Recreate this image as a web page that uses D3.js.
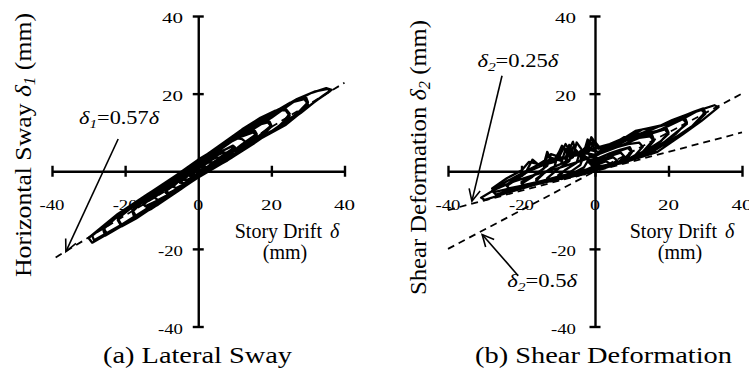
<!DOCTYPE html>
<html><head><meta charset="utf-8">
<script src="https://cdn.jsdelivr.net/npm/d3@7"></script>
<style>
body{margin:0;background:#fff}
svg{display:block}
</style>
</head><body>
<svg id="chart" width="749" height="369" font-family="'Liberation Serif', Tinos, 'Times New Roman', Times, serif"></svg>
<script>
// ---- data ----
const xTicks = [-40, -20, 0, 20, 40];
const yTicks = [-40, -20, 20, 40];

// (a) story drift δ vs horizontal sway δ1 (mm)
const loopA = [
 [0,0],[1,0.4],[2,1.2],[1.5,1.3],[0.5,0.9],[-0.5,0.1],[-1.5,-0.7],[-2,-1.2],[-1.5,-1.3],[-0.5,-0.8],[0,-0.3],
 [1,0.2],[2.5,1.1],[4,2.3],[3,2.3],[1.5,1.6],[0,0.8],[-1.5,-0.2],[-3,-1.3],[-4,-2.2],[-3,-2.2],[-1.5,-1.5],[0,-0.6],
 [1.5,0.3],[3.5,1.6],[6,3.5],[5,3.6],[3,2.6],[1,1.5],[-1,0.2],[-3,-1.2],[-5,-2.9],[-4,-3.1],[-2,-2.1],[0,-0.9],
 [2,0.5],[5,2.3],[8,4.6],[7,4.9],[4.5,3.8],[2,2.3],[0,1.2],[-2.5,-0.4],[-5,-2.3],[-7,-4.0],[-6,-4.3],[-3.5,-3.1],[-1,-1.6],[0.5,-0.8],
 [3,1.0],[6.5,3.1],[10,5.8],[9,6.3],[6,5.0],[3,3.3],[0,1.6],[-3,-0.3],[-6,-2.8],[-9,-5.1],[-8,-5.6],[-5,-4.1],[-2,-2.3],[1,-0.5],
 [3,1.4],[6,3.6],[10,6.2],[9.5,6.6],[7,5.4],[4,3.8],[0,1.4],[-4,-1.2],[-7,-3.4],[-9,-5.4],[-8.5,-5.9],[-6,-4.6],[-2,-2.0],[1,-0.2],
 [4,1.6],[8,4.2],[11,6.0],[13,7.5],[12,8.3],[10,8.6],[8,7.0],[4,4.4],[0,2.0],[-4,-0.8],[-8,-3.8],[-12,-6.8],[-11,-7.4],[-7,-5.4],[-3,-3.0],[1,-0.6],
 [5,2.0],[10,5.3],[13,7.1],[16,9.2],[15,10.0],[12,9.0],[9,7.6],[5,5.0],[0,2.2],[-5,-1.0],[-10,-4.7],[-15,-8.6],[-14,-9.3],[-9,-6.7],[-4,-3.6],[1,-0.4],
 [5,2.4],[9,4.8],[12,7.0],[16,9.6],[15.5,10.4],[13,9.6],[10,8.2],[6,5.6],[1,2.6],[-4,-0.4],[-9,-4.0],[-15,-8.2],[-14.5,-9.0],[-10,-7.0],[-5,-4.2],[0,-1.2],
 [6,2.0],[11,5.0],[14,6.8],[17,8.8],[20,11.5],[19,12.6],[15,11.6],[11,9.6],[6,6.4],[0,3.0],[-6,-1.0],[-12,-5.0],[-18,-10.0],[-17,-11.6],[-11,-8.6],[-5,-4.8],[1,-0.8],
 [6,2.4],[10,4.6],[15,7.8],[20,11.8],[19.5,12.8],[17,12.6],[14,11.4],[9,8.4],[3,4.6],[-3,0.4],[-9,-3.6],[-14,-6.8],[-18,-10.4],[-17.5,-11.8],[-13,-9.8],[-7,-6.0],[-1,-2.2],[3,0.2],
 [7,2.4],[13,6.0],[19,9.6],[22,11.6],[25,14.3],[24,15.6],[22,16.0],[20,15.0],[15,12.2],[9,8.6],[3,4.6],[-3,0.8],[-9,-3.0],[-15,-7.0],[-22,-12.2],[-21,-13.8],[-15,-10.8],[-8,-6.4],[-2,-2.6],[2,-0.4],
 [8,3.2],[14,7.0],[18,9.4],[21,10.8],[23,12.4],[25,14.8],[24,16.0],[21,15.6],[17,13.8],[12,10.8],[7,7.4],[1,3.4],[-6,-1.0],[-13,-5.4],[-20,-10.0],[-22,-12.6],[-21,-14.2],[-17,-12.2],[-11,-8.4],[-4,-4.0],[1,-0.8],
 [8,2.8],[15,7.0],[22,11.6],[26,14.2],[30,17.3],[29,18.6],[25,17.6],[20,14.8],[14,11.2],[8,7.8],[2,4.0],[-4,0.0],[-11,-4.2],[-18,-8.6],[-26,-14.4],[-25,-16.2],[-18,-12.4],[-10,-7.4],[-3,-3.2],[2,-0.2],
 [7,2.6],[12,5.4],[18,9.0],[23,12.0],[27,14.8],[30,17.8],[29.5,19.0],[27,18.6],[23,16.4],[18,13.4],[12,9.8],[6,6.0],[0,2.6],[-7,-2.0],[-14,-6.2],[-20,-9.8],[-26,-15.0],[-25.5,-16.6],[-20,-13.6],[-13,-9.4],[-6,-5.2],[0,-1.6],
 [9,3.4],[17,8.4],[24,12.0],[30,16.6],[34,19.4],[36.5,21.0],[35,21.4],[31,20.2],[26,17.8],[20,13.8],[13,9.6],[6,6.2],[0,2.2],[-7,-1.8],[-14,-6.0],[-22,-11.0],[-30,-17.2],[-29,-18.4],[-22,-14.6],[-14,-9.6],[-7,-5.4],[0,-1.6],
 [8,3.0],[16,8.0],[23,11.8],[28,15.0],[32,18.0],[36,20.6],[35.5,21.2],[32,20.6],[27,18.6],[21,15.0],[15,11.0],[8,7.0],[2,3.2],[-5,-1.0],[-12,-5.2],[-20,-9.8],[-29,-16.6],[-28.5,-17.8],[-21,-13.8],[-13,-9.0],[-5,-4.2],[0,-1.2]
];

// (b) story drift δ vs shear deformation δ2 (mm)
const loopB = [
 [0,0.3],[1,0.5],[2,1.0],[1.2,1.4],[0,1.0],[-1,0.4],[-2,-0.2],[-1.2,-0.4],[0,0.2],
 [1.5,0.6],[3,1.2],[4,2.0],[3,2.6],[1,1.8],[-1,1.0],[-2.5,0.4],[-4,-0.6],[-3,-0.8],[-1,0.0],[0.5,0.4],
 [2,0.7],[4,1.4],[6,2.8],[5,3.6],[3,3.0],[1,2.2],[-1,1.6],[-2,2.6],[-3,1.0],[-5,0.0],[-6,-0.9],[-5,-1.3],[-3,-0.6],[-1,0.2],[1,0.6],
 [3,1.0],[6,2.0],[8,3.8],[7,4.8],[4,3.9],[1,2.8],[-1,2.2],[-3,4.2],[-4,1.6],[-6,0.3],[-8,-1.0],[-7,-1.6],[-4,-0.8],[-1,0.4],[1,0.8],
 [3,0.9],[7,2.2],[9,3.6],[10,4.9],[9,6.0],[6,5.0],[3,4.2],[0,3.0],[-2,2.8],[-4,5.2],[-5,2.2],[-8,0.4],[-10,-1.4],[-9,-2.0],[-6,-1.2],[-3,0.0],[0,0.8],
 [2,0.8],[5,1.8],[8,3.2],[10,5.2],[9.5,6.2],[7,5.6],[4,4.6],[1,3.4],[-1,3.6],[-3,5.8],[-4,2.8],[-7,1.0],[-10,-1.0],[-9.5,-1.8],[-6,-1.0],[-2,0.2],[0,0.6],
 [4,1.2],[8,2.6],[11,4.2],[13,6.3],[12,7.4],[9,7.0],[6,6.2],[3,5.4],[0,3.8],[-3,3.4],[-6,6.2],[-7,2.6],[-10,0.6],[-13,-1.8],[-12,-2.6],[-8,-1.6],[-4,-0.2],[0,0.8],
 [5,1.5],[10,3.2],[14,5.6],[16,7.8],[15,9.0],[12,8.6],[9,8.0],[6,7.4],[3,5.6],[0,4.2],[-3,4.8],[-5,7.4],[-6,3.6],[-9,2.0],[-10,4.6],[-11,1.2],[-14,-0.6],[-16,-2.4],[-15,-3.2],[-10,-2.0],[-5,-0.6],[0,0.9],
 [4,1.4],[9,3.0],[13,5.0],[16,8.2],[15.5,9.4],[13,9.2],[10,8.4],[7,7.6],[4,6.4],[1,4.8],[-2,6.4],[-4,4.2],[-7,5.2],[-8,2.4],[-12,0.8],[-16,-2.0],[-15.5,-2.8],[-11,-1.8],[-6,-0.4],[0,0.8],
 [6,1.8],[12,4.0],[17,7.0],[20,9.6],[19,10.8],[15,9.6],[11,8.6],[8,8.8],[5,7.0],[1,5.0],[-2,5.6],[-4,3.8],[-8,5.8],[-9,2.6],[-13,3.8],[-14,0.6],[-17,-1.4],[-20,-3.2],[-19,-4.0],[-13,-2.6],[-6,-0.8],[0,1.0],
 [5,1.6],[10,3.4],[15,6.0],[18,7.8],[20,10.0],[19.5,11.0],[17,10.4],[14,9.8],[11,9.4],[8,8.0],[4,6.4],[0,5.8],[-2,8.2],[-3,5.0],[-6,4.6],[-7,6.8],[-8,3.2],[-12,4.4],[-13,1.4],[-16,-0.6],[-20,-2.8],[-19.5,-3.6],[-14,-2.4],[-7,-0.8],[0,0.8],
 [7,2.0],[13,4.3],[19,7.6],[25,12.2],[24,13.4],[20,12.2],[16,11.2],[13,10.8],[10,9.2],[6,7.4],[2,5.6],[-1,7.4],[-3,4.4],[-7,3.8],[-9,6.6],[-11,2.4],[-15,1.4],[-17,3.0],[-19,-0.6],[-24,-3.8],[-23,-4.8],[-16,-3.2],[-8,-1.2],[0,1.0],
 [6,1.8],[12,4.0],[18,7.0],[22,9.6],[25,12.6],[24.5,13.8],[22,13.0],[18,11.8],[14,11.0],[11,10.4],[8,8.6],[4,7.0],[1,6.2],[-1,8.8],[-2,5.4],[-5,4.6],[-6,7.6],[-8,3.6],[-12,3.0],[-13,5.0],[-14,1.6],[-18,0.0],[-21,-1.6],[-24,-3.4],[-23.5,-4.4],[-18,-3.4],[-10,-1.4],[0,1.0],
 [8,2.3],[15,4.6],[22,8.8],[27,12.0],[30,14.8],[29,15.8],[25,14.6],[21,13.2],[17,11.4],[12,9.6],[7,7.2],[2,5.2],[0,7.6],[-2,4.6],[-6,4.0],[-8,7.0],[-10,3.2],[-14,2.6],[-16,1.4],[-20,-0.6],[-24,-2.6],[-28,-5.0],[-27,-6.0],[-21,-4.4],[-13,-2.2],[-6,-0.6],[0,1.0],
 [9,2.8],[16,5.4],[21,8.0],[26,11.2],[30,15.2],[29.5,16.2],[27,15.4],[24,14.2],[20,12.6],[15,10.6],[10,8.6],[5,6.8],[1,5.8],[-1,8.4],[-3,5.0],[-7,4.4],[-9,6.2],[-11,3.0],[-15,1.8],[-18,2.4],[-20,0.2],[-24,-1.8],[-28,-4.4],[-27.5,-5.4],[-22,-4.2],[-14,-2.4],[-6,-0.6],[0,0.8],
 [9,2.6],[17,5.0],[24,9.6],[29,13.0],[33.6,16.5],[32.5,17.0],[28,15.6],[23,13.0],[18,10.8],[12,8.6],[6,6.2],[1,4.4],[-4,2.6],[-10,0.8],[-16,-0.8],[-22,-2.6],[-27,-4.6],[-31,-6.8],[-30,-7.4],[-24,-5.6],[-16,-3.4],[-9,-1.6],[-3,-0.2],[0,0.8]
];

// reference lines (end points, mm)
const refA = [[-39, -22.2], [40, 22.8]];          // δ1 = 0.57δ
const refB1 = [[-40, -20], [40, 20]];             // δ2 = 0.5δ
const refB2 = [[-40, -10], [40, 10]];             // δ2 = 0.25δ

// annotation arrows: [start, tip] in data units
const arrowA = [[-21.9, 8.3], [-36.2, -20.7]];
const arrowB1 = [[-25.3, 24.6], [-33.5, -7.7]];
const arrowB2 = [[-20.9, -26.9], [-30.7, -16.3]];

// ---- drawing ----
const svg = d3.select("#chart");
const yScale = d3.scaleLinear().domain([-40, 40]).range([326.5, 16]);
const xA = d3.scaleLinear().domain([-40, 40]).range([52, 344.5]);
const xB = d3.scaleLinear().domain([-40, 40]).range([448, 742]);
const line = (xs) => d3.line().x(d => xs(d[0])).y(d => yScale(d[1]));
const tickLen = d => String(d).length === 1 ? 10 : (String(d).length === 2 ? 21 : 25);

function axes(xs, yLabelRight) {
  const g = svg.append("g");
  const gx = g.append("g").attr("transform", `translate(0,${yScale(0)})`)
    .call(d3.axisBottom(xs).tickValues(xTicks).tickSize(11).tickSizeOuter(0).tickFormat(""));
  gx.selectAll(".tick line").attr("y1", -5.5).attr("y2", 5.5);
  const gy = g.append("g").attr("transform", `translate(${xs(0)},0)`)
    .call(d3.axisLeft(yScale).tickValues(yTicks).tickSize(11).tickSizeOuter(0).tickFormat(""));
  gy.selectAll(".tick line").attr("x1", -5.5).attr("x2", 5.5);
  g.selectAll(".domain, .tick line").attr("stroke", "#000").attr("stroke-width", 2.4);
  g.selectAll(".xl").data(xTicks).join("text")
    .attr("x", d => xs(d)).attr("y", 209.5).attr("text-anchor", "middle")
    .attr("font-size", 15).attr("textLength", tickLen).attr("lengthAdjust", "spacingAndGlyphs").text(d => d);
  g.selectAll(".yl").data(yTicks).join("text")
    .attr("x", yLabelRight).attr("y", d => yScale(d) + 7).attr("text-anchor", "end")
    .attr("font-size", 15).attr("textLength", tickLen).attr("lengthAdjust", "spacingAndGlyphs").text(d => d);
}

function loops(xs, data) {
  svg.append("path").datum(data).attr("d", line(xs))
    .attr("fill", "none").attr("stroke", "#000").attr("stroke-width", 2.3)
    .attr("stroke-linejoin", "round");
}
function dashed(xs, data) {
  svg.append("path").datum(data).attr("d", line(xs))
    .attr("fill", "none").attr("stroke", "#000").attr("stroke-width", 1.8)
    .attr("stroke-dasharray", "7,5");
}
function arrow(xs, a) {
  const x1 = xs(a[0][0]), y1 = yScale(a[0][1]), x2 = xs(a[1][0]), y2 = yScale(a[1][1]);
  const ang = Math.atan2(y1 - y2, x1 - x2), L = 13, sp = 0.45;
  const g = svg.append("g").attr("stroke", "#000").attr("stroke-width", 1.6).attr("fill", "none");
  g.append("line").attr("x1", x1).attr("y1", y1).attr("x2", x2).attr("y2", y2);
  g.append("path").attr("d",
    `M${x2 + L*Math.cos(ang+sp)},${y2 + L*Math.sin(ang+sp)}L${x2},${y2}L${x2 + L*Math.cos(ang-sp)},${y2 + L*Math.sin(ang-sp)}`);
}
function deltaLabel(x, y, sub, mid, len) {
  const t = svg.append("text").attr("x", x).attr("y", y).attr("font-size", 19)
    .attr("textLength", len).attr("lengthAdjust", "spacingAndGlyphs");
  t.append("tspan").attr("font-style", "italic").text("δ");
  t.append("tspan").attr("font-size", 13).attr("font-style", "italic").attr("dy", 4).text(sub);
  t.append("tspan").attr("dy", -4).text(mid);
  t.append("tspan").attr("font-style", "italic").text("δ");
}

// Panel (a)
axes(xA, 183);
dashed(xA, refA);
loops(xA, loopA);
arrow(xA, arrowA);
deltaLabel(xA(-32.6), yScale(12.1), "1", "=0.57", 80);

// Panel (b)
axes(xB, 576);
dashed(xB, refB1);
dashed(xB, refB2);
loops(xB, loopB);
arrow(xB, arrowB1);
arrow(xB, arrowB2);
deltaLabel(xB(-32.0), yScale(26.9), "2", "=0.25", 81);
deltaLabel(xB(-23.9), yScale(-29.7), "2", "=0.5", 70);

// axis titles
function xTitle(cx) {
  const t = svg.append("text").attr("x", cx).attr("y", 238).attr("text-anchor", "middle").attr("font-size", 20);
  t.append("tspan").text("Story Drift");
  t.append("tspan").attr("dx", 8).attr("font-style", "italic").text("δ");
  svg.append("text").attr("x", cx - 2).attr("y", 259).attr("text-anchor", "middle").attr("font-size", 20).text("(mm)");
}
xTitle(287);
xTitle(682);

function yTitle(bx, cy, main, sub, len) {
  const t = svg.append("text").attr("transform", `translate(${bx},${cy}) rotate(-90)`)
    .attr("text-anchor", "middle").attr("font-size", 24)
    .attr("textLength", len).attr("lengthAdjust", "spacingAndGlyphs");
  t.append("tspan").text(main + " ");
  t.append("tspan").attr("font-style", "italic").text("δ");
  t.append("tspan").attr("font-style", "italic").attr("font-size", 16).attr("dy", 4).text(sub);
  t.append("tspan").attr("dy", -4).text(" (mm)");
}
yTitle(31, 145, "Horizontal Sway", "1", 264);
yTitle(426, 157.5, "Shear Deformation", "2", 275);

// panel titles
svg.append("text").attr("x", 197.5).attr("y", 363).attr("text-anchor", "middle").attr("font-size", 23.5)
  .attr("textLength", 189).attr("lengthAdjust", "spacingAndGlyphs").text("(a) Lateral Sway");
svg.append("text").attr("x", 603.5).attr("y", 363).attr("text-anchor", "middle").attr("font-size", 23.5)
  .attr("textLength", 257).attr("lengthAdjust", "spacingAndGlyphs").text("(b) Shear Deformation");
</script>
</body></html>
